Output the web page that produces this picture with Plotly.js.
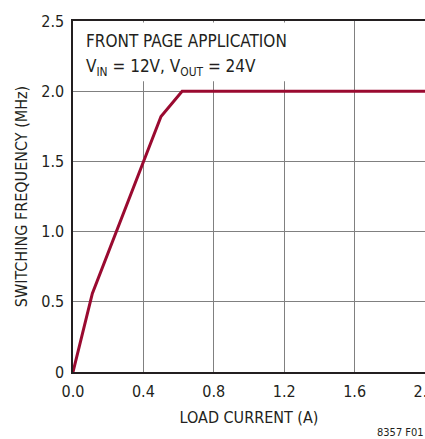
<!DOCTYPE html>
<html>
<head>
<meta charset="utf-8">
<script src="https://cdn.plot.ly/plotly-3.0.1.min.js"></script>
<style>
html,body{margin:0;padding:0;background:#fff;}
#chart{width:425px;height:439px;}
</style>
</head>
<body>
<div id="chart"></div>
<script>
// Data
const loadCurrent = [0, 0.11, 0.5, 0.62, 2.0];
const switchingFreq = [0, 0.56, 1.82, 2.0, 2.0];
const xTickVals = [0, 0.4, 0.8, 1.2, 1.6, 2.0];
const xTickText = ["0.0", "0.4", "0.8", "1.2", "1.6", "2.0"];
const yTickVals = [0, 0.5, 1.0, 1.5, 2.0, 2.5];
const yTickText = ["0", "0.5", "1.0", "1.5", "2.0", "2.5"];

const FONT = "'Liberation Sans Narrow', 'Arial Narrow', 'DejaVu Sans Condensed', sans-serif";

const trace = {
  x: loadCurrent,
  y: switchingFreq,
  type: 'scatter',
  mode: 'lines',
  line: {color: '#9a0a30', width: 3},
  hoverinfo: 'skip'
};

const layout = {
  width: 425,
  height: 439,
  margin: {l: 73, r: 0, t: 21, b: 67, pad: 0},
  paper_bgcolor: '#ffffff',
  plot_bgcolor: '#ffffff',
  showlegend: false,
  font: {family: FONT, color: '#231f20', size: 15},
  xaxis: {
    range: [0, 2],
    tickvals: xTickVals,
    ticktext: xTickText,
    ticks: '',
    ticklabelstandoff: 4,
    ticklabeloverflow: 'allow',
    showgrid: true,
    gridcolor: '#808080',
    gridwidth: 1.3,
    zeroline: false,
    showline: true,
    mirror: true,
    linecolor: '#231f20',
    linewidth: 1.6,
    tickfont: {family: FONT, size: 16, color: '#231f20'},
    title: {text: 'LOAD CURRENT (A)', font: {family: FONT, size: 16, color: '#231f20'}, standoff: 12},
    fixedrange: true
  },
  yaxis: {
    range: [0, 2.5],
    tickvals: yTickVals,
    ticktext: yTickText,
    ticks: '',
    ticklabelstandoff: 4,
    showgrid: true,
    gridcolor: '#808080',
    gridwidth: 1.3,
    zeroline: false,
    showline: true,
    mirror: true,
    linecolor: '#231f20',
    linewidth: 1.6,
    tickfont: {family: FONT, size: 16, color: '#231f20'},
    title: {text: 'SWITCHING FREQUENCY (MHz)', font: {family: FONT, size: 16, color: '#231f20'}, standoff: 10},
    fixedrange: true
  },
  shapes: [{
    type: 'rect', layer: 'between',
    xref: 'x', yref: 'y',
    x0: 0.005, x1: 1.24, y0: 2.07, y1: 2.49,
    fillcolor: '#ffffff', line: {width: 0}
  }],
  annotations: [
    {
      xref: 'paper', yref: 'paper', x: 0.031, y: 0.978,
      xanchor: 'left', yanchor: 'top', showarrow: false,
      text: 'FRONT PAGE APPLICATION',
      font: {family: FONT, size: 17, color: '#231f20'}
    },
    {
      xref: 'paper', yref: 'paper', x: 0.031, y: 0.905,
      xanchor: 'left', yanchor: 'top', showarrow: false,
      text: 'V<sub>IN</sub> = 12V, V<sub>OUT</sub> = 24V',
      font: {family: FONT, size: 17, color: '#231f20'}
    },
    {
      xref: 'paper', yref: 'paper', x: 1, y: 0, yshift: -52, xshift: 1,
      xanchor: 'right', yanchor: 'top', showarrow: false,
      text: '8357 F01',
      font: {family: FONT, size: 11, color: '#231f20'}
    }
  ]
};

Plotly.newPlot('chart', [trace], layout, {staticPlot: true, displayModeBar: false});
</script>
</body>
</html>
